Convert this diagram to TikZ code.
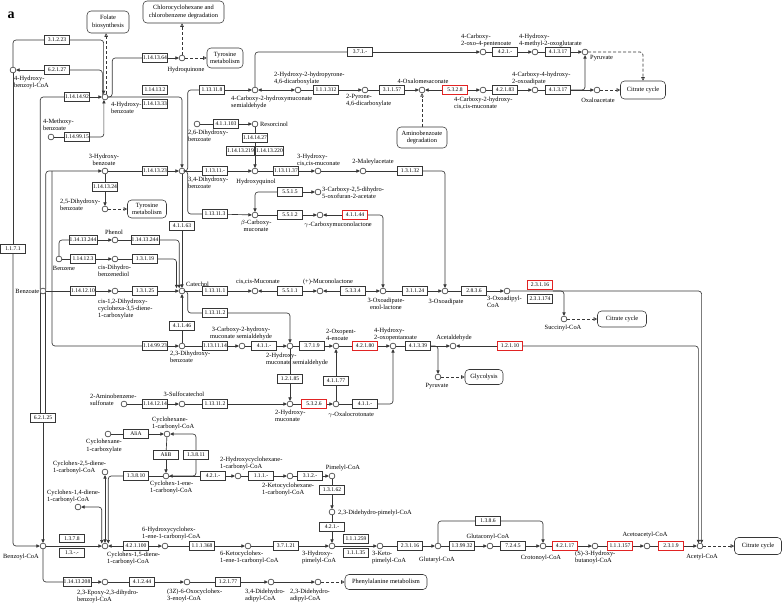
\documentclass[tikz,border=0pt]{standalone}
\usepackage{fontspec}
\setmainfont{Liberation Serif}
\usetikzlibrary{arrows.meta}
\definecolor{rojokegg}{RGB}{225,35,35}
\definecolor{trazo}{RGB}{55,55,55}
\newcommand{\fuentetxt}{\fontsize{6.4}{7.1}\selectfont}
\newcommand{\fuenteenz}{\fontsize{5.6}{5.6}\selectfont}

\begin{document}
\begin{tikzpicture}[
    x=1pt, y=-1pt,
    enzima/.style={draw=trazo, fill=white, line width=0.55pt, minimum width=25pt, minimum height=8.5pt, inner sep=0.6pt, font=\fuenteenz},
    enzimaroja/.style={enzima, draw=rojokegg, line width=0.8pt},
    compuesto/.style={circle, draw=trazo, fill=white, line width=0.6pt, minimum size=5.8pt, inner sep=0pt},
    etiqueta/.style={font=\fuentetxt, inner sep=0pt, align=left},
    mapa/.style={draw=trazo, fill=white, line width=0.55pt, rounded corners=4pt, align=center, font=\fuentetxt, inner sep=1pt},
    linea/.style={draw=trazo, line width=0.65pt, rounded corners=3pt},
    flecha/.style={linea, -{Triangle[length=3.4pt,width=3.2pt]}},
    ambas/.style={linea, {Triangle[length=3.4pt,width=3.2pt]}-{Triangle[length=3.4pt,width=3.2pt]}},
    discontinua/.style={linea, dash pattern=on 3pt off 2pt, -{Triangle[open,length=3.5pt,width=3.5pt]}}
]
    \useasboundingbox[fill=white] (0,0) rectangle (783,608);
    \node[font=\fontsize{14}{14}\selectfont\bfseries, inner sep=0pt] (letra) at (11,15) {a};

    % --- MAPAS ENLAZADOS ---
    \node[mapa, minimum width=42pt, minimum height=22pt] (folato) at (108,22) {Folate\\biosynthesis};
    \node[mapa, minimum width=81pt, minimum height=22pt] (cloro) at (183.5,12) {Chlorocyclohexane and\\chlorobenzene degradation};
    \node[mapa, minimum width=36pt, minimum height=20pt] (tirosina1) at (225,58) {Tyrosine\\metabolism};
    \node[mapa, minimum width=50pt, minimum height=21pt] (amino) at (422,137.5) {Aminobenzoate\\degradation};
    \node[mapa, minimum width=45pt, minimum height=18pt] (citrato1) at (643,90) {Citrate cycle};
    \node[mapa, minimum width=39pt, minimum height=18pt] (tirosina2) at (147,209) {Tyrosine\\metabolism};
    \node[mapa, minimum width=49pt, minimum height=16pt] (citrato2) at (622,319) {Citrate cycle};
    \node[mapa, minimum width=38pt, minimum height=15pt] (glucolisis) at (484,377) {Glycolysis};
    \node[mapa, minimum width=82pt, minimum height=15pt] (fenilalanina) at (386,582) {Phenylalanine metabolism};
    \node[mapa, minimum width=47pt, minimum height=17pt] (citrato3) at (758,546) {Citrate cycle};

    % --- COMPUESTOS: ZONA SUPERIOR IZQUIERDA ---
    \node[compuesto] (hbcoa) at (13,70) {};
    \node[compuesto] (hb4) at (105,97) {};
    \node[compuesto] (mb4) at (51,137) {};
    \node[compuesto] (hq) at (182,58) {};
    \node[compuesto] (hb3) at (105,171) {};
    \node[compuesto] (pca) at (182,171) {};
    \node[compuesto] (dhb26) at (197,124) {};
    \node[compuesto] (resor) at (255,124) {};
    \node[compuesto] (hqol) at (255,171) {};
    \node[compuesto] (hb25) at (105,209) {};
    \node[etiqueta, anchor=north west] (t-hbcoa) at (14,76) {4-Hydroxy-\\benzoyl-CoA};
    \node[etiqueta, anchor=north west] (t-hb4) at (111,102) {4-Hydroxy-\\benzoate};
    \node[etiqueta, anchor=south west] (t-mb4) at (43,131) {4-Methoxy-\\benzoate};
    \node[etiqueta] (t-hq) at (186,70) {Hydroquinone};
    \node[etiqueta, align=center] (t-hb3) at (104,160) {3-Hydroxy-\\benzoate};
    \node[etiqueta, anchor=north west] (t-pca) at (188,177) {3,4-Dihydroxy-\\benzoate};
    \node[etiqueta, anchor=north west] (t-dhb26) at (188,130) {2,6-Dihydroxy-\\benzoate};
    \node[etiqueta, anchor=west] (t-resor) at (260,124) {Resorcinol};
    \node[etiqueta] (t-hqol) at (256,182) {Hydroxyquinol};
    \node[etiqueta, anchor=west] (t-hb25) at (60,205) {2,5-Dihydroxy-\\benzoate};

    % --- COMPUESTOS: RAMA META SUPERIOR ---
    \node[compuesto] (chms) at (255,90) {};
    \node[compuesto] (hhpdc) at (298,90) {};
    \node[compuesto] (pdc) at (365,90) {};
    \node[compuesto] (oms) at (422,90) {};
    \node[compuesto] (chm) at (483,90) {};
    \node[compuesto] (chod) at (535,90) {};
    \node[compuesto] (oaa) at (597,90) {};
    \node[compuesto] (cop) at (483,52) {};
    \node[compuesto] (hmog) at (535,52) {};
    \node[compuesto] (pyr1) at (585,52) {};
    \node[etiqueta, anchor=north west] (t-chms) at (231,96) {4-Carboxy-2-hydroxymuconate\\semialdehyde};
    \node[etiqueta, anchor=south west] (t-hhpdc) at (274,85) {2-Hydroxy-2-hydropyrone-\\4,6-dicarboxylate};
    \node[etiqueta, anchor=north west] (t-pdc) at (346,94) {2-Pyrone-\\4,6-dicarboxylate};
    \node[etiqueta] (t-oms) at (423,81) {4-Oxalomesaconate};
    \node[etiqueta, anchor=north west] (t-chm) at (454,97) {4-Carboxy-2-hydroxy-\\cis,cis-muconate};
    \node[etiqueta, anchor=south west] (t-chod) at (512,85) {4-Carboxy-4-hydroxy-\\2-oxoadipate};
    \node[etiqueta] (t-oaa) at (598,100) {Oxaloacetate};
    \node[etiqueta, anchor=south west] (t-cop) at (461,47) {4-Carboxy-\\2-oxo-4-pentenoate};
    \node[etiqueta, anchor=south west] (t-hmog) at (519,47) {4-Hydroxy-\\4-methyl-2-oxoglutarate};
    \node[etiqueta, anchor=west] (t-pyr1) at (590,58.5) {Pyruvate};

    % --- COMPUESTOS: RAMA ORTO ---
    \node[compuesto] (hcm) at (318,171) {};
    \node[compuesto] (mla) at (363,171) {};
    \node[compuesto] (cdo) at (318,192) {};
    \node[compuesto] (bcm) at (255,215) {};
    \node[compuesto] (gcml) at (320,215) {};
    \node[compuesto] (cat) at (182,291) {};
    \node[compuesto] (ccm) at (255,291) {};
    \node[compuesto] (mucl) at (320,291) {};
    \node[compuesto] (oael) at (383,291) {};
    \node[compuesto] (oad) at (445,291) {};
    \node[compuesto] (oacoa) at (507,291) {};
    \node[compuesto] (succ) at (564,319) {};
    \node[etiqueta, anchor=south west] (t-hcm) at (297,167) {3-Hydroxy-\\cis,cis-muconate};
    \node[etiqueta] (t-mla) at (373,162) {2-Maleylacetate};
    \node[etiqueta, anchor=west] (t-cdo) at (322,193) {3-Carboxy-2,5-dihydro-\\5-oxofuran-2-acetate};
    \node[etiqueta, align=center, anchor=north] (t-bcm) at (256,220) {$\beta$-Carboxy-\\muconate};
    \node[etiqueta, anchor=north] (t-gcml) at (338,222) {$\gamma$-Carboxymuconolactone};
    \node[etiqueta, anchor=south west] (t-cat) at (186,286.5) {Catechol};
    \node[etiqueta] (t-ccm) at (258,282) {cis,cis-Muconate};
    \node[etiqueta] (t-mucl) at (328,282) {(+)-Muconolactone};
    \node[etiqueta, align=center] (t-oael) at (386,304) {3-Oxoadipate-\\enol-lactone};
    \node[etiqueta] (t-oad) at (446,302) {3-Oxoadipate};
    \node[etiqueta, anchor=north west] (t-oacoa) at (487,296) {3-Oxoadipyl-\\CoA};
    \node[etiqueta] (t-succ) at (563,328) {Succinyl-CoA};

    % --- COMPUESTOS: BENCENO Y BENZOATO ---
    \node[compuesto] (benz) at (59,259) {};
    \node[compuesto] (phen) at (115,240) {};
    \node[compuesto] (cdbd) at (115,259) {};
    \node[compuesto] (bzt) at (43,291) {};
    \node[compuesto] (dhcd) at (115,291) {};
    \node[compuesto] (dhb23) at (182,346) {};
    \coordinate (catin1) at (176.5,288.2);
    \coordinate (catin2) at (179.2,288.2);
    \coordinate (ram3) at (52,171);
    \node[etiqueta] (t-benz) at (64,268) {Benzene};
    \node[etiqueta] (t-phen) at (114,232) {Phenol};
    \node[etiqueta, anchor=north west] (t-cdbd) at (98,265) {cis-Dihydro-\\benzenediol};
    \node[etiqueta, anchor=east] (t-bzt) at (39.5,291) {Benzoate};
    \node[etiqueta, anchor=north west] (t-dhcd) at (98,299) {cis-1,2-Dihydroxy-\\cyclohexa-3,5-diene-\\1-carboxylate};
    \node[etiqueta, anchor=north west] (t-dhb23) at (170,351) {2,3-Dihydroxy-\\benzoate};

    % --- COMPUESTOS: RAMA META INFERIOR ---
    \node[compuesto] (chmsa) at (242,346) {};
    \node[compuesto] (hms) at (290,346) {};
    \node[compuesto] (ope) at (336,346) {};
    \node[compuesto] (hop) at (393,346) {};
    \node[compuesto] (acald) at (453,346) {};
    \node[compuesto] (pyr2) at (438,377) {};
    \node[compuesto] (abs) at (124,404) {};
    \node[compuesto] (sca) at (182,404) {};
    \node[compuesto] (hmu) at (290,404) {};
    \node[compuesto] (goc) at (336,404) {};
    \node[etiqueta, align=center, anchor=south] (t-chmsa) at (241,340) {3-Carboxy-2-hydroxy-\\muconate semialdehyde};
    \node[etiqueta, anchor=north west] (t-hms) at (266,353) {2-Hydroxy-\\muconate semialdehyde};
    \node[etiqueta, anchor=south west] (t-ope) at (326,341) {2-Oxopent-\\4-enoate};
    \node[etiqueta, anchor=south west] (t-hop) at (374,341) {4-Hydroxy-\\2-oxopentanoate};
    \node[etiqueta] (t-acald) at (454,338) {Acetaldehyde};
    \node[etiqueta] (t-pyr2) at (437,386) {Pyruvate};
    \node[etiqueta, anchor=north west] (t-abs) at (90,393.5) {2-Aminobenzene-\\sulfonate};
    \node[etiqueta] (t-sca) at (184,394) {3-Sulfocatechol};
    \node[etiqueta, anchor=north west] (t-hmu) at (275,410) {2-Hydroxy-\\muconate};
    \node[etiqueta] (t-goc) at (351,415) {$\gamma$-Oxalocrotonate};

    % --- COMPUESTOS: RUTA DEL BENZOIL-COA ---
    \node[compuesto] (bcoa) at (43,546) {};
    \node[compuesto] (ch1c) at (108,434) {};
    \node[compuesto] (chcoa) at (167,434) {};
    \node[compuesto] (che) at (166,476) {};
    \node[compuesto] (c25d) at (105,472) {};
    \node[compuesto] (c14d) at (78,507) {};
    \node[compuesto] (c15d) at (105,546) {};
    \node[compuesto] (hchc) at (165,546) {};
    \node[compuesto] (kchc) at (248,546) {};
    \node[compuesto] (hpcoa) at (332,546) {};
    \node[compuesto] (hchx) at (238,476) {};
    \node[compuesto] (kchx) at (290,476) {};
    \node[compuesto] (pim) at (332,476) {};
    \node[compuesto] (ddp) at (332,512) {};
    \node[compuesto] (kpcoa) at (380,546) {};
    \node[compuesto] (glut) at (438,546) {};
    \node[compuesto] (glcoa) at (490,546) {};
    \node[compuesto] (crot) at (543,546) {};
    \node[compuesto] (hbcoa3) at (595,546) {};
    \node[compuesto] (aacoa) at (647,546) {};
    \node[compuesto] (accoa) at (700,546) {};
    \node[compuesto] (ebcoa) at (105,582) {};
    \node[compuesto] (ohcoa) at (187,582) {};
    \node[compuesto] (dda34) at (271,582) {};
    \node[compuesto] (dda23) at (318,582) {};
    \coordinate (c15izq) at (101.8,543.4);
    \coordinate (c15der) at (108.2,543.4);
    \node[etiqueta] (t-bcoa) at (21,557) {Benzoyl-CoA};
    \node[etiqueta, align=center] (t-ch1c) at (104,446) {Cyclohexane-\\1-carboxylate};
    \node[etiqueta, anchor=south west] (t-chcoa) at (152,430) {Cyclohexane-\\1-carbonyl-CoA};
    \node[etiqueta, anchor=north west] (t-che) at (150,481) {Cyclohex-1-ene-\\1-carbonyl-CoA};
    \node[etiqueta, anchor=south west] (t-c25d) at (53,474) {Cyclohex-2,5-diene-\\1-carbonyl-CoA};
    \node[etiqueta, anchor=south west] (t-c14d) at (47,503) {Cyclohex-1,4-diene-\\1-carbonyl-CoA};
    \node[etiqueta, anchor=north west] (t-c15d) at (107,552) {Cyclohex-1,5-diene-\\1-carbonyl-CoA};
    \node[etiqueta, anchor=south west] (t-hchc) at (142,540) {6-Hydroxycyclohex-\\1-ene-1-carbonyl-CoA};
    \node[etiqueta, anchor=north west] (t-kchc) at (220,551) {6-Ketocyclohex-\\1-ene-1-carbonyl-CoA};
    \node[etiqueta, anchor=north west] (t-hpcoa) at (302,551) {3-Hydroxy-\\pimelyl-CoA};
    \node[etiqueta, anchor=south west] (t-hchx) at (220,470) {2-Hydroxycyclohexane-\\1-carbonyl-CoA};
    \node[etiqueta, anchor=north west] (t-kchx) at (262,483) {2-Ketocyclohexane-\\1-carbonyl-CoA};
    \node[etiqueta] (t-pim) at (343,468) {Pimelyl-CoA};
    \node[etiqueta, anchor=west] (t-ddp) at (338,513) {2,3-Didehydro-pimelyl-CoA};
    \node[etiqueta, anchor=north west] (t-kpcoa) at (372,551) {3-Keto-\\pimelyl-CoA};
    \node[etiqueta] (t-glut) at (437,560) {Glutaryl-CoA};
    \node[etiqueta] (t-glcoa) at (488,537) {Glutaconyl-CoA};
    \node[etiqueta] (t-crot) at (541,558) {Crotonoyl-CoA};
    \node[etiqueta, anchor=north west] (t-hbcoa3) at (575,551) {(S)-3-Hydroxy-\\butanoyl-CoA};
    \node[etiqueta] (t-aacoa) at (645,535) {Acetoacetyl-CoA};
    \node[etiqueta] (t-accoa) at (702,557) {Acetyl-CoA};
    \node[etiqueta, anchor=north west] (t-ebcoa) at (77,590) {2,3-Epoxy-2,3-dihydro-\\benzoyl-CoA};
    \node[etiqueta, anchor=north west] (t-ohcoa) at (167,589) {(3Z)-6-Oxocyclohex-\\3-enoyl-CoA};
    \node[etiqueta, anchor=north west] (t-dda34) at (245,589) {3,4-Didehydro-\\adipyl-CoA};
    \node[etiqueta, anchor=north west] (t-dda23) at (290,589) {2,3-Didehydro-\\adipyl-CoA};

    % --- ENZIMAS ---
    \node[enzima] (e31223) at (57,40) {3.1.2.23};
    \node[enzima] (e62127) at (57,70) {6.2.1.27};
    \node[enzima] (e1141492) at (77,97) {1.14.14.92};
    \node[enzima] (e1149915) at (77,137) {1.14.99.15};
    \node[enzima] (e1141364) at (155,58) {1.14.13.64};
    \node[enzima] (e114132) at (155,90) {1.14.13.2};
    \node[enzima] (e1141333) at (155,104) {1.14.13.33};
    \node[enzima] (e1141323) at (155,171) {1.14.13.23};
    \node[enzima] (e1141324) at (105,187) {1.14.13.24};
    \node[enzima] (e1131118) at (212,90) {1.13.11.8};
    \node[enzima] (e111312) at (326,90) {1.1.1.312};
    \node[enzima] (e31157) at (392,90) {3.1.1.57};
    \node[enzimaroja] (e5328) at (455,90) {5.3.2.8};
    \node[enzima] (e42183) at (505,90) {4.2.1.83};
    \node[enzima] (e41317b) at (558,90) {4.1.3.17};
    \node[enzima] (e371) at (360,52) {3.7.1.-};
    \node[enzima] (e421a) at (505,52) {4.2.1.-};
    \node[enzima] (e41317a) at (558,52) {4.1.3.17};
    \node[enzima] (e411103) at (226,124) {4.1.1.103};
    \node[enzima] (e1141427) at (255,138) {1.14.14.27};
    \node[enzima] (e11413219) at (240.5,151) {1.14.13.219};
    \node[enzima] (e11413220) at (269.5,151) {1.14.13.220};
    \node[enzima] (e11311) at (215,171) {1.13.11.-};
    \node[enzima] (e1131137) at (286,171) {1.13.11.37};
    \node[enzima] (e13132) at (410,171) {1.3.1.32};
    \node[enzima] (e5515) at (290,192) {5.5.1.5};
    \node[enzima] (e113113) at (215,214) {1.13.11.3};
    \node[enzima] (e5512) at (290,215) {5.5.1.2};
    \node[enzimaroja] (e41144) at (355,215) {4.1.1.44};
    \node[enzima] (e41163) at (182,226) {4.1.1.63};
    \node[enzima] (e113244a) at (83,240) {1.14.13.244};
    \node[enzima] (e113244b) at (145,240) {1.14.13.244};
    \node[enzima] (e114123) at (83,259) {1.14.12.3};
    \node[enzima] (e13119) at (145,259) {1.3.1.19};
    \node[enzima] (e1141210) at (83,291) {1.14.12.10};
    \node[enzima] (e13125) at (145,291) {1.3.1.25};
    \node[enzima] (e113111) at (215,291) {1.13.11.1};
    \node[enzima] (e5511) at (290,291) {5.5.1.1};
    \node[enzima] (e5334) at (353,291) {5.3.3.4};
    \node[enzima] (e31124) at (415,291) {3.1.1.24};
    \node[enzima] (e2836) at (474,291) {2.8.3.6};
    \node[enzimaroja] (e23116a) at (540,285) {2.3.1.16};
    \node[enzima] (e231174) at (540,299) {2.3.1.174};
    \node[enzima] (e113112a) at (215,313) {1.13.11.2};
    \node[enzima] (e41146) at (182,326) {4.1.1.46};
    \node[enzima] (e1149923) at (155,346) {1.14.99.23};
    \node[enzima] (e1131114) at (215,346) {1.13.11.14};
    \node[enzima] (e411a) at (264,346) {4.1.1.-};
    \node[enzima] (e3719) at (312,346) {3.7.1.9};
    \node[enzimaroja] (e42180) at (365,346) {4.2.1.80};
    \node[enzima] (e41339) at (418,346) {4.1.3.39};
    \node[enzimaroja] (e12110) at (510,346) {1.2.1.10};
    \node[enzima] (e12185) at (290,379) {1.2.1.85};
    \node[enzima] (e41177) at (336,381) {4.1.1.77};
    \node[enzima] (e1141214) at (155,404) {1.14.12.14};
    \node[enzima] (e113112b) at (215,404) {1.13.11.2};
    \node[enzimaroja] (e5326) at (314,404) {5.3.2.6};
    \node[enzima] (e411b) at (365,404) {4.1.1.-};
    \node[enzima] (e1171) at (13,249) {1.1.7.1};
    \node[enzima] (e62125) at (43,418) {6.2.1.25};
    \node[enzima] (ealia) at (136,434) {AliA};
    \node[enzima] (ealib) at (166,455) {AliB};
    \node[enzima] (e13811) at (196,455) {1.3.8.11};
    \node[enzima] (e13810) at (136,476) {1.3.8.10};
    \node[enzima] (e421b) at (213,476) {4.2.1.-};
    \node[enzima] (e111) at (261,476) {1.1.1.-};
    \node[enzima] (e312) at (310,476) {3.1.2.-};
    \node[enzima] (e13162) at (332,490) {1.3.1.62};
    \node[enzima] (e421c) at (332,527) {4.2.1.-};
    \node[enzima] (e1378) at (72,538.5) {1.3.7.8};
    \node[enzima] (e13xx) at (72,553) {1.3.-.-};
    \node[enzima] (e421100) at (136,546) {4.2.1.100};
    \node[enzima] (e111368) at (202,546) {1.1.1.368};
    \node[enzima] (e37121) at (286,546) {3.7.1.21};
    \node[enzima] (e111259) at (356,539) {1.1.1.259};
    \node[enzima] (e11135) at (356,553) {1.1.1.35};
    \node[enzima] (e23116b) at (410,546) {2.3.1.16};
    \node[enzima] (e139932) at (462,546) {1.3.99.32};
    \node[enzima] (e7245) at (513,546) {7.2.4.5};
    \node[enzima] (e1386) at (488,521) {1.3.8.6};
    \node[enzimaroja] (e42117) at (565,546) {4.2.1.17};
    \node[enzimaroja] (e111157) at (620,546) {1.1.1.157};
    \node[enzimaroja] (e2319) at (671,546) {2.3.1.9};
    \node[enzima] (e11413208) at (77,582) {1.14.13.208};
    \node[enzima] (e41244) at (142,582) {4.1.2.44};
    \node[enzima] (e12177) at (228,582) {1.2.1.77};

    % --- 4-HIDROXIBENZOATO ---
    \draw[linea] (hbcoa) |- (e31223);
    \draw[flecha] (e31223) -| (hb4.115);
    \draw[linea] (hb4.145) |- (e62127);
    \draw[flecha] (e62127) -- (hbcoa);
    \draw[discontinua] (hb4.70) -- (hb4.70 |- folato.south);
    \draw[linea] (mb4) -- (e1149915);
    \draw[flecha] (e1149915) -| (hb4.250);
    \draw[linea] (bzt.150) |- (e1141492);
    \draw[flecha] (e1141492) -- (hb4);
    \draw[linea] (hb4.east) -- ++(4,0) |- (e1141364);
    \draw[flecha] (e1141364) -- (hq);
    \draw[discontinua] (hq) -- (hq |- cloro.south);
    \draw[discontinua] (hq) -- (tirosina1);
    \draw[flecha] (hb4.east) -| (pca.north);

    % --- 3-HIDROXIBENZOATO Y PROTOCATECUATO ---
    \draw[flecha] (bzt.30) |- (hb3);
    \draw[linea] (hb3) -- (e1141323);
    \draw[flecha] (e1141323) -- (pca);
    \draw[linea] (hb3) -- (e1141324);
    \draw[flecha] (e1141324) -- (hb25);
    \draw[discontinua] (hb25) -- (tirosina2);
    \draw[linea] (ram3) |- (e1149923);
    \draw[flecha] (e1149923) -- (dhb23);
    \draw[linea] (pca.east) -- ++(2.5,0) |- (e1131118);
    \draw[flecha] (e1131118) -- (chms);
    \draw[linea] (pca.east) -- ++(2.5,0) |- (e113113);
    \draw[flecha] (e113113) -- (bcm);
    \draw[linea] (pca) -- (e11311);
    \draw[flecha] (e11311) -- (hqol);
    \draw[linea] (pca) -- (e41163);
    \draw[flecha] (e41163) -- (cat);

    % --- RESORCINOL E HIDROXIQUINOL ---
    \draw[linea] (dhb26) -- (e411103);
    \draw[flecha] (e411103) -- (resor);
    \draw[linea] (resor) -- (e1141427);
    \draw[flecha] (e1141427) -- (hqol);
    \draw[linea] (hqol) -- (e1131137);
    \draw[flecha] (e1131137) -- (hcm);
    \draw[flecha] (hcm) -- (mla);
    \draw[linea] (mla) -- (e13132);
    \draw[flecha] (e13132) -| (oad);

    % --- RAMA META SUPERIOR ---
    \draw[ambas] (chms) -- (hhpdc);
    \draw[linea] (hhpdc) -- (e111312);
    \draw[flecha] (e111312) -- (pdc);
    \draw[linea] (pdc) -- (e31157);
    \draw[flecha] (e31157) -- (oms);
    \draw[flecha] (e5328) -- (oms);
    \draw[flecha] (e5328) -- (chm);
    \draw[discontinua] (amino) -- (oms);
    \draw[linea] (chm) -- (e42183);
    \draw[flecha] (e42183) -- (chod);
    \draw[linea] (chod) -- (e41317b);
    \draw[flecha] (e41317b) -- (oaa);
    \draw[flecha] (e41317b) -| (pyr1);
    \draw[linea] (chms) |- (e371);
    \draw[flecha] (e371) -- (cop);
    \draw[linea] (cop) -- (e421a);
    \draw[flecha] (e421a) -- (hmog);
    \draw[linea] (hmog) -- (e41317a);
    \draw[flecha] (e41317a) -- (pyr1);
    \draw[discontinua] (pyr1) -| (citrato1);
    \draw[discontinua] (oaa) -- (citrato1);

    % --- BENCENO, FENOL Y BENZOATO HACIA CATECOL ---
    \draw[linea] (benz) |- (e113244a);
    \draw[flecha] (e113244a) -- (phen);
    \draw[linea] (phen) -- (e113244b);
    \draw[flecha] (e113244b) -| (catin2);
    \draw[linea] (benz) -- (e114123);
    \draw[flecha] (e114123) -- (cdbd);
    \draw[linea] (cdbd) -- (e13119);
    \draw[flecha] (e13119) -| (catin1);
    \draw[linea] (bzt) -- (e1141210);
    \draw[flecha] (e1141210) -- (dhcd);
    \draw[linea] (dhcd) -- (e13125);
    \draw[flecha] (e13125) -- (cat);
    \draw[linea] (dhb23) -- (e41146);
    \draw[flecha] (e41146) -- (cat);

    % --- RAMA ORTO ---
    \draw[flecha] (e5515) -| (bcm);
    \draw[flecha] (e5515) -- (cdo);
    \draw[linea] (bcm) -- (e5512);
    \draw[flecha] (e5512) -- (gcml);
    \draw[flecha] (e41144) -- (gcml);
    \draw[flecha] (e41144) -| (oael);
    \draw[linea] (cat) -- (e113111);
    \draw[flecha] (e113111) -- (ccm);
    \draw[flecha] (e5511) -- (ccm);
    \draw[flecha] (e5511) -- (mucl);
    \draw[flecha] (e5334) -- (mucl);
    \draw[flecha] (e5334) -- (oael);
    \draw[linea] (oael) -- (e31124);
    \draw[flecha] (e31124) -- (oad);
    \draw[linea] (oad) -- (e2836);
    \draw[flecha] (e2836) -- (oacoa);
    \draw[flecha] (oacoa) -| (accoa.60);
    \draw[flecha] (e23116a.east |- oacoa) -| (succ);
    \draw[discontinua] (succ) -- (citrato2);

    % --- RAMA META INFERIOR ---
    \draw[linea] (cat.east) -- ++(2.5,0) |- (e113112a);
    \draw[flecha] (e113112a) -| (hms);
    \draw[linea] (dhb23) -- (e1131114);
    \draw[flecha] (e1131114) -- (chmsa);
    \draw[linea] (chmsa) -- (e411a);
    \draw[flecha] (e411a) -- (hms);
    \draw[linea] (hms) -- (e3719);
    \draw[flecha] (e3719) -- (ope);
    \draw[linea] (ope) -- (e42180);
    \draw[flecha] (e42180) -- (hop);
    \draw[linea] (hop) -- (e41339);
    \draw[flecha] (e41339) -- (acald);
    \draw[flecha] (e41339) -| (pyr2);
    \draw[discontinua] (pyr2) -- (glucolisis);
    \draw[flecha] (e12110) -- (acald);
    \draw[flecha] (e12110) -| (accoa.120);
    \draw[linea] (hms) -- (e12185);
    \draw[flecha] (e12185) -- (hmu);
    \draw[linea] (abs) -- (e1141214);
    \draw[flecha] (e1141214) -- (sca);
    \draw[linea] (sca) -- (e113112b);
    \draw[flecha] (e113112b) -- (hmu);
    \draw[linea] (hmu) -- (e5326);
    \draw[flecha] (e5326) -- (goc);
    \draw[linea] (goc) -- (e41177);
    \draw[flecha] (e41177) -- (ope);
    \draw[linea] (goc) -- (e411b);
    \draw[flecha] (e411b) -| (hop);

    % --- BENZOIL-COA ---
    \draw[linea] (hbcoa) -- (e1171);
    \draw[flecha] (e1171) |- (bcoa);
    \draw[linea] (bzt.210) -- (bzt.210 |- e62125.north);
    \draw[linea] (bzt.330) -- (bzt.330 |- e62125.north);
    \draw[flecha] (e62125) -- (bcoa);
    \draw[flecha] (bcoa) -- (c15d);
    \draw[linea] (bcoa) |- (e11413208);
    \draw[flecha] (e11413208) -- (ebcoa);
    \draw[linea] (ebcoa) -- (e41244);
    \draw[flecha] (e41244) -- (ohcoa);
    \draw[linea] (ohcoa) -- (e12177);
    \draw[flecha] (e12177) -- (dda34);
    \draw[flecha] (dda34) -- (dda23);
    \draw[discontinua] (dda23) -- (fenilalanina);

    % --- CICLOHEXANO Y DIENOS ---
    \draw[linea] (ch1c) -- (ealia);
    \draw[flecha] (ealia) -- (chcoa);
    \draw[linea] (chcoa) -- (ealib);
    \draw[flecha] (ealib) -- (che);
    \draw[flecha] (e13811) |- (chcoa);
    \draw[flecha] (e13811) |- (che);
    \draw[linea] (che) -- (e13810);
    \draw[flecha] (e13810) -| (c15der);
    \draw[ambas] (c25d) -- (c15d);
    \draw[ambas] (c14d) -| (c15izq);
    \draw[flecha] (e421100) -- (c15d);
    \draw[flecha] (e421100) -- (hchc);
    \draw[linea] (hchc) -- (e111368);
    \draw[flecha] (e111368) -- (kchc);
    \draw[linea] (kchc) -- (e37121);
    \draw[flecha] (e37121) -- (hpcoa);

    % --- PIMELIL-COA HASTA ACETIL-COA ---
    \draw[linea] (che) -- (e421b);
    \draw[flecha] (e421b) -- (hchx);
    \draw[linea] (hchx) -- (e111);
    \draw[flecha] (e111) -- (kchx);
    \draw[linea] (kchx) -- (e312);
    \draw[flecha] (e312) -- (pim);
    \draw[linea] (pim) -- (e13162);
    \draw[flecha] (e13162) -- (ddp);
    \draw[linea] (ddp) -- (e421c);
    \draw[flecha] (e421c) -- (hpcoa);
    \draw[flecha] (hpcoa) -- (kpcoa);
    \draw[linea] (kpcoa) -- (e23116b);
    \draw[flecha] (e23116b) -- (glut);
    \draw[linea] (glut) -- (e139932);
    \draw[flecha] (e139932) -- (glcoa);
    \draw[linea] (glcoa) -- (e7245);
    \draw[flecha] (e7245) -- (crot);
    \draw[linea] (glut) |- (e1386);
    \draw[flecha] (e1386) -| (crot);
    \draw[linea] (crot) -- (e42117);
    \draw[flecha] (e42117) -- (hbcoa3);
    \draw[linea] (hbcoa3) -- (e111157);
    \draw[flecha] (e111157) -- (aacoa);
    \draw[linea] (aacoa) -- (e2319);
    \draw[flecha] (e2319) -- (accoa);
    \draw[discontinua] (accoa) -- (citrato3);
\end{tikzpicture}
\end{document}
